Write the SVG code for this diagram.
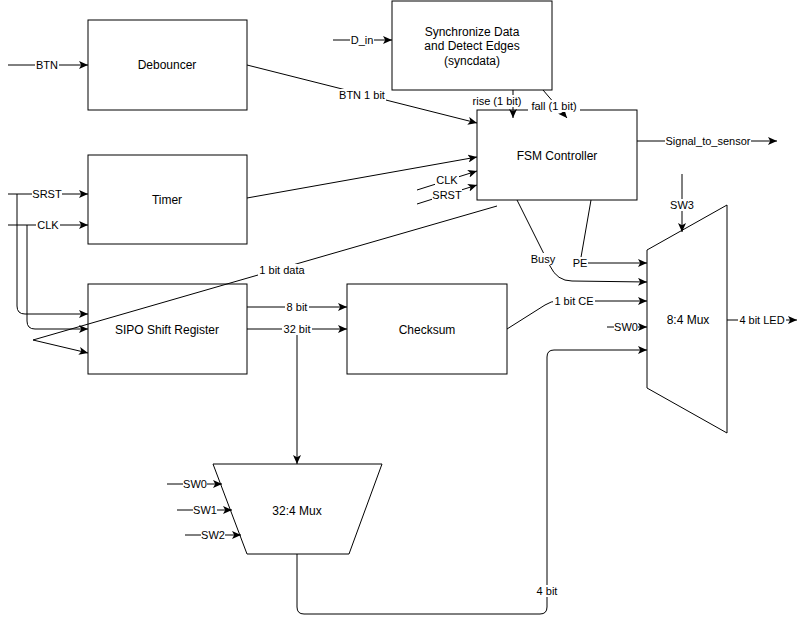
<svg xmlns="http://www.w3.org/2000/svg" width="806" height="623" viewBox="0 0 806 623">
<style>
.box{fill:#fff;stroke:#000;stroke-width:1}
.nt{font-family:"Liberation Sans",Arial,sans-serif;font-size:12px;fill:#000;text-anchor:middle;dominant-baseline:central}
.el{font-family:"Liberation Sans",Arial,sans-serif;font-size:11px;fill:#000;text-anchor:middle;dominant-baseline:central}
.lb{fill:#fff;stroke:none}
.c{fill:none;stroke:#000;stroke-width:1}
.a{marker-end:url(#arr)}
</style>
<defs>
<marker id="arr" markerUnits="userSpaceOnUse" markerWidth="10" markerHeight="8" refX="9" refY="4" orient="auto">
<path d="M0,0 L9,4 L0,8 L2.2,4 z" fill="#000"/>
</marker>
</defs>
<rect width="806" height="623" fill="#fff"/>
<g id="debouncer"><rect class="box" x="88" y="20" width="159" height="90"/><text class="nt" x="167" y="65">Debouncer</text></g>
<g id="syncdata"><rect class="box" x="392" y="1" width="160" height="89"/><text class="nt" x="472" y="32">Synchronize Data</text><text class="nt" x="472" y="46">and Detect Edges</text><text class="nt" x="472" y="61">(syncdata)</text></g>
<g id="fsm"><rect class="box" x="477" y="110" width="160" height="90"/><text class="nt" x="557" y="156">FSM Controller</text></g>
<g id="timer"><rect class="box" x="88" y="155" width="159" height="89"/><text class="nt" x="167" y="200">Timer</text></g>
<g id="sipo"><rect class="box" x="88" y="284" width="159" height="90"/><text class="nt" x="167" y="330">SIPO Shift Register</text></g>
<g id="checksum"><rect class="box" x="347" y="284" width="160" height="90"/><text class="nt" x="427" y="330">Checksum</text></g>
<g id="mux84"><polygon class="box" points="647,250 727,205 727,433 647,388"/><text class="nt" x="688" y="320">8:4 Mux</text></g>
<g id="mux324"><polygon class="box" points="213,464 382,464 349,554 247,554"/><text class="nt" x="297" y="511">32:4 Mux</text></g>
<g id="connectors">
<path class="c a" d="M8,65 L88,65"/>
<path class="c a" d="M333,40 L392,40"/>
<path class="c a" d="M247,65 L477,123"/>
<path class="c a" d="M513,90 L513,118"/>
<path class="c a" d="M543,90 L567,118"/>
<path class="c a" d="M247,198 L477,157"/>
<path class="c a" d="M417,190 L477,171"/>
<path class="c a" d="M417,204 L477,185"/>
<path class="c a" d="M637,141 L777,141"/>
<path class="c a" d="M682,174 L682,232"/>
<path class="c a" d="M517,200 L550,266 Q557,281 572,281 L647,282"/>
<path class="c a" d="M591,200 L580,263 L647,263"/>
<path class="c a" d="M507,329 L545,305 Q551,301 558,301 L647,301"/>
<path class="c a" d="M607,327 L647,327"/>
<path class="c a" d="M297,554 L297,607 Q297,614 304,614 L540,614 Q547,614 547,607 L547,357 Q547,350 554,350 L647,350"/>
<path class="c a" d="M247,307 L347,307"/>
<path class="c a" d="M247,329 L347,329"/>
<path class="c a" d="M297,329 L297,464"/>
<path class="c a" d="M727,320 L797,320"/>
<path class="c a" d="M167,484 L222,484"/>
<path class="c a" d="M177,510 L232,510"/>
<path class="c a" d="M185,535 L241,535"/>
<path class="c a" d="M8,194 L88,194"/>
<path class="c a" d="M8,225 L88,225"/>
<path class="c a" d="M17,194 L17,306 Q17,314 25,314 L88,314"/>
<path class="c a" d="M27,225 L27,321 Q27,329 35,329 L88,329"/>
<path class="c a" d="M497,206 L33,340 L88,353"/>
<rect class="lb" x="35" y="59" width="24" height="12"/><text class="el" x="47" y="65">BTN</text>
<rect class="lb" x="350" y="34" width="24" height="12"/><text class="el" x="362" y="40">D_in</text>
<rect class="lb" x="338" y="89" width="48" height="12"/><text class="el" x="362" y="95">BTN 1 bit</text>
<rect class="lb" x="467" y="95" width="60" height="12"/><text class="el" x="497" y="101">rise  (1 bit)</text>
<rect class="lb" x="528" y="100" width="52" height="12"/><text class="el" x="554" y="106">fall (1 bit)</text>
<rect class="lb" x="435" y="174" width="24" height="12"/><text class="el" x="447" y="180">CLK</text>
<rect class="lb" x="432" y="189" width="30" height="12"/><text class="el" x="447" y="195">SRST</text>
<rect class="lb" x="665" y="135" width="86" height="12"/><text class="el" x="708" y="141">Signal_to_sensor</text>
<rect class="lb" x="670" y="199" width="24" height="12"/><text class="el" x="682" y="205">SW3</text>
<rect class="lb" x="530" y="253" width="26" height="12"/><text class="el" x="543" y="259">Busy</text>
<rect class="lb" x="572" y="257" width="16" height="12"/><text class="el" x="580" y="263">PE</text>
<rect class="lb" x="553" y="295" width="42" height="12"/><text class="el" x="574" y="301">1 bit CE</text>
<rect class="lb" x="614" y="321" width="24" height="12"/><text class="el" x="626" y="327">SW0</text>
<rect class="lb" x="738" y="314" width="48" height="12"/><text class="el" x="762" y="320">4 bit LED</text>
<rect class="lb" x="535" y="585" width="24" height="12"/><text class="el" x="547" y="591">4 bit</text>
<rect class="lb" x="285" y="301" width="24" height="12"/><text class="el" x="297" y="307">8 bit</text>
<rect class="lb" x="282" y="323" width="30" height="12"/><text class="el" x="297" y="329">32 bit</text>
<rect class="lb" x="258" y="264" width="48" height="12"/><text class="el" x="282" y="270">1 bit data</text>
<rect class="lb" x="183" y="478" width="24" height="12"/><text class="el" x="195" y="484">SW0</text>
<rect class="lb" x="193" y="504" width="24" height="12"/><text class="el" x="205" y="510">SW1</text>
<rect class="lb" x="201" y="529" width="24" height="12"/><text class="el" x="213" y="535">SW2</text>
<rect class="lb" x="32" y="188" width="30" height="12"/><text class="el" x="47" y="194">SRST</text>
<rect class="lb" x="36" y="219" width="24" height="12"/><text class="el" x="48" y="225">CLK</text>
</g>
</svg>
